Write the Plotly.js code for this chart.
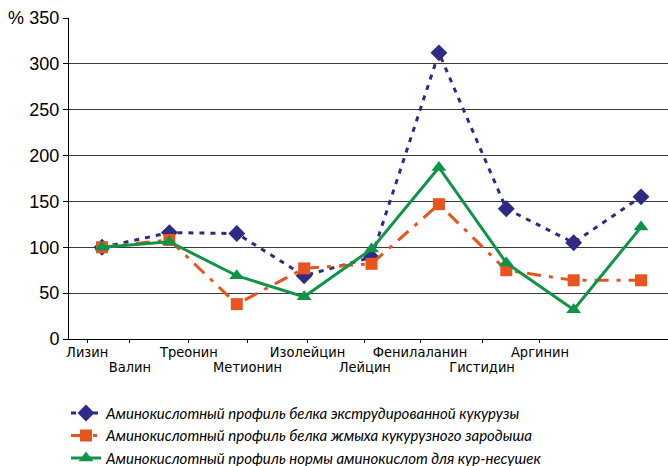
<!DOCTYPE html>
<html>
<head>
<meta charset="utf-8">
<script src="https://cdn.plot.ly/plotly-3.0.1.min.js"></script>
<style>html,body{margin:0;padding:0;background:#fff;}#chart{width:668px;height:466px;}</style>
</head>
<body>
<div id="chart"></div>
<script>
// Categories (amino acids) in data order
const categories = ['Лизин','Валин','Треонин','Метионин','Изолейцин','Лейцин','Фенилаланин','Гистидин','Аргинин'];
// Series values, %
const extrudedCorn = [100, 116, 115, 69, 89, 312, 142, 105, 155];
const germMeal     = [100, 108, 38, 77, 82, 147, 75, 64, 64];
const henNorm      = [100, 106, 69, 46, 98, 187, 83, 32, 122];
const seriesNames = [
  'Аминокислотный профиль белка экструдированной кукурузы',
  'Аминокислотный профиль белка жмыха кукурузного зародыша',
  'Аминокислотный профиль нормы аминокислот для кур-несушек'
];
// Tick labels as printed (two staggered rows, offset from the points as in the original)
const row1Labels = ['Лизин','Треонин','Изолейцин','Фенилаланин','Аргинин'];
const row1Pos    = [-0.22, 1.29, 3.05, 4.72, 6.50];
const row2Labels = ['Валин','Метионин','Лейцин','Гистидин'];
const row2Pos    = [0.415, 2.16, 3.90, 5.64];
const yTicks = [0, 50, 100, 150, 200, 250, 300, 350];

const xIdx = categories.map((c, i) => i);
const labelFont = {family: 'Liberation Sans Narrow, DejaVu Sans Condensed, Liberation Sans, sans-serif', size: 14.5, color: '#000'};
const xRange = [-0.49, 8.4];

const traces = [
  {x: xIdx, y: extrudedCorn, name: seriesNames[0], type: 'scatter', mode: 'lines+markers',
   line: {color: '#2E2A85', width: 3, dash: '5px,6px'},
   marker: {symbol: 'diamond', size: 13, color: '#2E2A85'}},
  {x: xIdx, y: germMeal, name: seriesNames[1], type: 'scatter', mode: 'lines+markers',
   line: {color: '#E8541E', width: 3, dash: '14px,8px,4px,8px'},
   marker: {symbol: 'square', size: 12, color: '#E8541E'}},
  {x: xIdx, y: henNorm, name: seriesNames[2], type: 'scatter', mode: 'lines+markers',
   line: {color: '#109447', width: 3},
   marker: {symbol: 'triangle-up', size: 13, color: '#109447'}},
  // invisible traces to activate the extra x axes (lower label row, tick marks)
  {x: [0], y: [0], xaxis: 'x2', type: 'scatter', mode: 'markers', marker: {opacity: 0}, showlegend: false, hoverinfo: 'skip'},
  {x: [0], y: [0], xaxis: 'x3', type: 'scatter', mode: 'markers', marker: {opacity: 0}, showlegend: false, hoverinfo: 'skip'}
];

const layout = {
  width: 668, height: 466,
  margin: {l: 69, r: 0, t: 18, b: 127, autoexpand: false},
  paper_bgcolor: '#fff', plot_bgcolor: '#fff',
  showlegend: true,
  xaxis: {
    range: xRange, tickmode: 'array', tickvals: row1Pos, ticktext: row1Labels,
    showgrid: false, zeroline: false, showline: true, linecolor: '#000', linewidth: 1,
    ticks: '', tickfont: labelFont, automargin: false
  },
  xaxis2: {
    overlaying: 'x', side: 'bottom', anchor: 'y', range: xRange,
    tickmode: 'array', tickvals: row2Pos, ticktext: row2Labels,
    showgrid: false, zeroline: false, showline: false,
    ticks: 'outside', ticklen: 3, tickcolor: '#000', tickfont: labelFont, ticklabelstandoff: 12,
    automargin: false
  },
  xaxis3: {
    overlaying: 'x', side: 'bottom', anchor: 'y', range: xRange,
    tickmode: 'array', tickvals: row1Pos, showticklabels: false,
    showgrid: false, zeroline: false, showline: false,
    ticks: 'outside', ticklen: 3, tickcolor: '#000', automargin: false
  },
  yaxis: {
    range: [0, 350], tickmode: 'array', tickvals: yTicks,
    showgrid: true, gridcolor: '#3a3a3a', gridwidth: 1, zeroline: false,
    showline: true, linecolor: '#000', linewidth: 1,
    ticks: 'outside', ticklen: 5, tickcolor: '#000', automargin: false,
    tickfont: {family: 'Liberation Sans, Arial, sans-serif', size: 18, color: '#000'}
  },
  legend: {
    x: -0.005, xanchor: 'left', y: -0.18, yanchor: 'top', orientation: 'v',
    bgcolor: 'rgba(0,0,0,0)', tracegroupgap: 0,
    font: {family: 'Lato, Open Sans, sans-serif', size: 15, style: 'italic', color: '#000'}
  },
  annotations: [
    {text: '%', xref: 'paper', yref: 'paper', x: 0, y: 1, xanchor: 'right', yanchor: 'middle',
     xshift: -43, showarrow: false, font: {family: 'Liberation Sans, Arial, sans-serif', size: 18, color: '#000'}}
  ]
};

Plotly.newPlot('chart', traces, layout, {staticPlot: true, displayModeBar: false});
</script>
</body>
</html>
